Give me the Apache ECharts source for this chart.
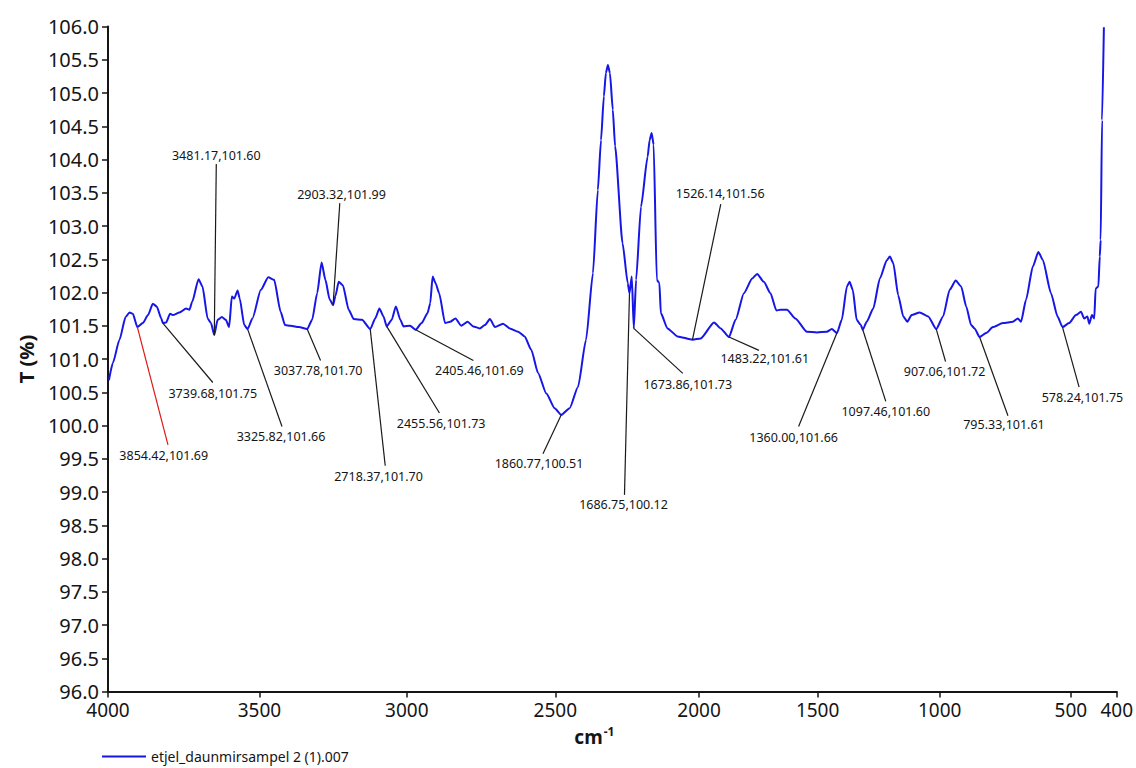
<!DOCTYPE html>
<html>
<head>
<meta charset="utf-8">
<title>IR spectrum</title>
<script src="https://cdn.jsdelivr.net/npm/echarts@6/dist/echarts.min.js"></script>
<style>
  html, body { margin: 0; padding: 0; background: #ffffff; }
  #chart { width: 1136px; height: 768px; }
</style>
</head>
<body>
<div id="chart"></div>
<script>
// Spectrum trace: wavenumber (cm-1) and transmittance T (%)
const wavenumbers = [
  3997, 3984, 3962, 3942, 3929, 3918, 3903, 3885, 3868, 3852, 3839, 3824, 3819, 3808, 3795, 3786,
  3764, 3742, 3731, 3722, 3701, 3688, 3671, 3660, 3649, 3638, 3624, 3611, 3600, 3591, 3583, 3572,
  3565, 3550, 3539, 3523, 3495, 3470, 3450, 3428, 3413, 3394, 3366, 3338, 3321, 3304, 3289, 3276,
  3262, 3250, 3242, 3231, 3217, 3197, 3180, 3152, 3124, 3107, 3093, 3079, 3068, 3051, 3037, 3022,
  3011, 2989, 2970, 2950, 2930, 2921, 2913, 2903, 2891, 2871, 2854, 2836, 2817, 2795, 2776, 2754,
  2737, 2720, 2703, 2676, 2653, 2625, 2603, 2581, 2558, 2530, 2502, 2479, 2450, 2421, 2393, 2369,
  2352, 2341, 2331, 2324, 2317, 2310, 2300, 2292, 2266, 2248, 2242, 2234, 2227, 2219, 2202, 2179, 2172, 2165,
  2158, 2147, 2138, 2133, 2110, 2075, 2023, 1993, 1937, 1909, 1874, 1846, 1811, 1776, 1755, 1727,
  1699, 1674, 1657, 1629, 1594, 1545, 1503, 1462, 1442, 1421, 1401, 1380, 1369, 1356, 1340, 1323,
  1315, 1299, 1272, 1245, 1217, 1204, 1190, 1170, 1149, 1133, 1115, 1082, 1047, 1014, 987, 962,
  939, 918, 899, 880, 867, 848, 823, 797, 759, 721, 702, 690, 671, 645, 624, 607,
  576, 551, 532, 507, 489, 478, 471, 464, 460, 454, 449, 446, 440, 437, 435, 432, 428
];
const transmittance = [
  100.68, 100.94, 101.29, 101.63, 101.70, 101.68, 101.48, 101.54, 101.66, 101.83, 101.79, 101.61, 101.54, 101.55, 101.68, 101.66,
  101.70, 101.76, 101.74, 101.86, 102.20, 102.09, 101.61, 101.54, 101.36, 101.59, 101.63, 101.59, 101.48, 101.94, 101.91, 102.03,
  101.91, 101.51, 101.45, 101.61, 102.04, 102.23, 102.19, 101.71, 101.51, 101.50, 101.48, 101.45, 101.59, 101.99, 102.45, 102.19,
  101.90, 101.81, 101.95, 102.16, 102.11, 101.74, 101.60, 101.59, 101.45, 101.61, 101.76, 101.64, 101.49, 101.59, 101.79, 101.59,
  101.49, 101.50, 101.44, 101.54, 101.69, 101.84, 102.24, 102.14, 101.99, 101.54, 101.56, 101.61, 101.50, 101.56, 101.49, 101.46,
  101.51, 101.60, 101.48, 101.53, 101.46, 101.41, 101.34, 101.14, 100.79, 100.48, 100.26, 100.16, 100.26, 100.58, 101.29, 102.29,
  103.54, 104.29, 104.95, 105.30, 105.42, 105.30, 104.75, 104.20, 102.74, 102.14, 101.99, 102.24, 101.46, 102.19, 103.29, 104.04, 104.29, 104.40,
  104.22, 102.19, 102.14, 101.69, 101.46, 101.34, 101.29, 101.31, 101.55, 101.46, 101.33, 101.59, 101.99, 102.21, 102.28, 102.16,
  101.99, 101.73, 101.74, 101.74, 101.61, 101.41, 101.40, 101.41, 101.45, 101.39, 101.59, 102.09, 102.16, 102.04, 101.59, 101.51,
  101.44, 101.56, 101.76, 102.21, 102.48, 102.54, 102.44, 101.96, 101.64, 101.56, 101.66, 101.70, 101.64, 101.45, 101.64, 102.04,
  102.18, 102.09, 101.79, 101.51, 101.46, 101.33, 101.39, 101.48, 101.54, 101.56, 101.61, 101.56, 101.89, 102.39, 102.61, 102.49,
  101.99, 101.64, 101.48, 101.54, 101.66, 101.71, 101.61, 101.64, 101.53, 101.66, 101.61, 102.06, 102.09, 102.54, 102.79, 104.59, 105.99
];

// Peak annotations: text and the point of the trace each leader line points at
const peakLabels = [
  '3854.42,101.69', '3739.68,101.75', '3481.17,101.60', '3325.82,101.66', '3037.78,101.70',
  '2903.32,101.99', '2718.37,101.70', '2455.56,101.73', '2405.46,101.69', '1860.77,100.51',
  '1686.75,100.12', '1673.86,101.73', '1526.14,101.56', '1483.22,101.61', '1360.00,101.66',
  '1097.46,101.60', '907.06,101.72', '795.33,101.61', '578.24,101.75'
];
const peakWavenumbers = [3903, 3819, 3649, 3539, 3338, 3250, 3124, 3068, 2970, 2479, 2242, 2227, 2023, 1874, 1421, 1315, 1014, 848, 532];
const peakTransmittance = [101.48, 101.54, 101.36, 101.45, 101.45, 101.81, 101.45, 101.49, 101.44, 100.16, 101.99, 101.46, 101.29, 101.33, 101.39, 101.44, 101.45, 101.33, 101.48];

// Axis ticks
const xTickValues = [4000, 3500, 3000, 2500, 2000, 1500, 1000, 500, 400];
const xTickLabels = ['4000', '3500', '3000', '2500', '2000', '1500', '1000', '500', '400'];
const seriesName = 'etjel_daunmirsampel 2 (1).007';

// ---- layout ----
// Position of each x tick along the axis (0 = left end, 1 = right end);
// the wavenumber scale is piecewise linear between these ticks.
const xTickPos = [0, 0.1501, 0.2962, 0.4434, 0.5860, 0.7035, 0.8245, 0.9546, 1];
// Leader line end relative to its point [dx, dy] and text centre relative to that end [tx, ty]
const leaderLayout = [
  [30.6, 117.7, -4.3, 11], [50, 59.4, 0, 11.3], [2, -171, 0, -8.3], [34.4, 97.4, -1, 10],
  [13.4, 31.4, -2.4, 10.3], [6.7, -102, 1.7, -8.7], [15, 136.7, -6.7, 11], [52.7, 86.6, 1.7, 10.7],
  [57.7, 30.7, 6, 10], [-18.3, 39, -4, 10], [-5, 201.7, -1, 10], [49, 45, 5, 10.7],
  [28.3, -135.7, -0.6, -10.3], [30, 13.3, 5.8, 8.3], [-38.3, 93.4, -5, 10.6], [23, 71.7, 0, 10],
  [9.3, 32.4, -1, 10], [28.4, 78.7, -4, 9], [16.6, 60, 3.4, 10]
];
const FONT = '"Noto Sans", "Open Sans", "DejaVu Sans", sans-serif';
const TRACE_COLOR = '#1616e6';
const INK = '#151515';

// wavenumber -> position on the x axis
function wnToAxis(wn) {
  for (let i = 0; i < xTickValues.length - 1; i++) {
    const a = xTickValues[i], b = xTickValues[i + 1];
    if (wn <= a && wn >= b) {
      return xTickPos[i] + (a - wn) / (a - b) * (xTickPos[i + 1] - xTickPos[i]);
    }
  }
  return wn > xTickValues[0] ? 0 : 1;
}
function axisToLabel(v) {
  let best = 0;
  for (let i = 1; i < xTickPos.length; i++) {
    if (Math.abs(xTickPos[i] - v) < Math.abs(xTickPos[best] - v)) best = i;
  }
  return xTickLabels[best];
}

const chart = echarts.init(document.getElementById('chart'), null, { renderer: 'svg' });

chart.setOption({
  backgroundColor: '#ffffff',
  animation: false,
  textStyle: { fontFamily: FONT },
  grid: { left: 108, right: 15, top: 26.5, bottom: 76.5 },
  legend: {
    data: [{ name: seriesName, icon: 'rect' }],
    left: 97,
    top: 744,
    padding: 5,
    itemWidth: 44,
    itemHeight: 2,
    itemGap: 8,
    textStyle: { fontFamily: FONT, fontSize: 14, color: INK, lineHeight: 15 }
  },
  xAxis: {
    type: 'value',
    min: 0,
    max: 1,
    name: '{a|cm}{b|-1}',
    nameLocation: 'middle',
    nameGap: 34,
    nameTextStyle: {
      padding: [0, 36, 0, 0],
      rich: {
        a: { fontFamily: FONT, fontSize: 19, fontWeight: 'bold', color: INK, lineHeight: 22 },
        b: { fontFamily: FONT, fontSize: 12, fontWeight: 'bold', color: INK, verticalAlign: 'top', lineHeight: 22, padding: [0, 0, 8, 1] }
      }
    },
    axisLine: { show: true, lineStyle: { color: INK, width: 2 } },
    axisTick: { show: true, length: 6, lineStyle: { color: INK, width: 1.5 }, customValues: xTickPos },
    axisLabel: {
      customValues: xTickPos,
      formatter: axisToLabel,
      fontFamily: FONT,
      fontSize: 19,
      color: INK,
      margin: 9
    },
    splitLine: { show: false }
  },
  yAxis: {
    type: 'value',
    min: 96,
    max: 106,
    interval: 0.5,
    name: 'T (%)',
    nameLocation: 'middle',
    nameGap: 70,
    nameTextStyle: { fontFamily: FONT, fontSize: 20, fontWeight: 'bold', color: INK },
    axisLine: { show: true, lineStyle: { color: INK, width: 2 } },
    axisTick: { show: true, length: 6, lineStyle: { color: INK, width: 1.5 } },
    axisLabel: {
      formatter: v => v.toFixed(1),
      fontFamily: FONT,
      fontSize: 20,
      color: INK,
      margin: 9
    },
    splitLine: { show: false }
  },
  series: [
    {
      name: seriesName,
      type: 'line',
      data: wavenumbers.map((w, i) => [wnToAxis(w), transmittance[i]]),
      symbol: 'none',
      showSymbol: false,
      smooth: 0.2,
      smoothMonotone: 'x',
      lineStyle: { color: TRACE_COLOR, width: 2 },
      itemStyle: { color: TRACE_COLOR },
      z: 2
    },
    {
      name: 'peaks',
      type: 'custom',
      silent: true,
      z: 3,
      data: peakLabels.map((t, i) => [wnToAxis(peakWavenumbers[i]), peakTransmittance[i], i]),
      renderItem: function (params, api) {
        const i = api.value(2);
        const p = api.coord([api.value(0), api.value(1)]);
        const L = leaderLayout[i];
        const ex = p[0] + L[0], ey = p[1] + L[1];
        return {
          type: 'group',
          children: [
            {
              type: 'line',
              shape: { x1: p[0], y1: p[1], x2: ex, y2: ey },
              style: { stroke: i === 0 ? '#e01818' : '#1a1a1a', lineWidth: 1.2 }
            },
            {
              type: 'text',
              x: ex + L[2],
              y: ey + L[3],
              style: {
                text: peakLabels[i],
                align: 'center',
                verticalAlign: 'middle',
                fontFamily: FONT,
                fontSize: 12.5,
                fill: INK
              }
            }
          ]
        };
      }
    }
  ]
});
</script>
</body>
</html>
